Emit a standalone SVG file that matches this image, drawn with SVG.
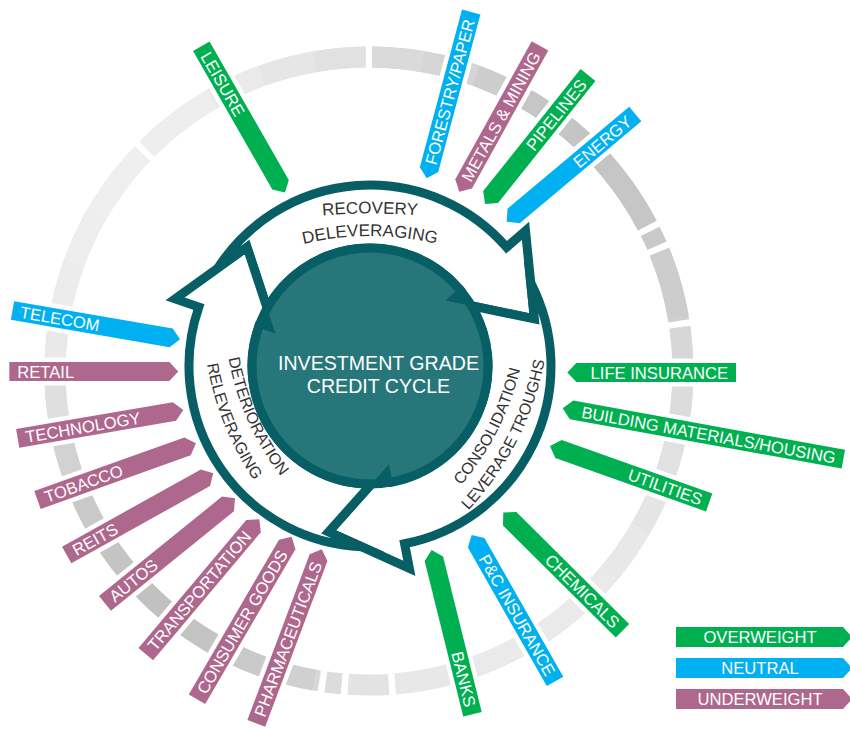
<svg xmlns="http://www.w3.org/2000/svg" width="850" height="729" viewBox="0 0 850 729">
<style>
  .ring path{fill:none;stroke-width:21}
  .sec path{stroke:#fff;stroke-width:9;stroke-linejoin:round;paint-order:stroke}
  .ow{fill:#00b050}
  .nt{fill:#00b0f0}
  .uw{fill:#ae678d}
  .sec text,.legend text{font-family:"Liberation Sans",Arial,sans-serif;font-size:16.6px;fill:#fff}
  .sec text.e{text-anchor:end}
  .legend text{text-anchor:middle}
  .cyc{fill:#fff;stroke:#075f65;stroke-width:9;stroke-linejoin:miter;stroke-miterlimit:10}
  .barb{fill:#075f65}
  .phase{font-family:"Liberation Sans",Arial,sans-serif;fill:#333}
  .core{font-family:"Liberation Sans",Arial,sans-serif;font-size:19.6px;fill:#fff;text-anchor:middle}
</style>
<defs>
  <!-- one curved cycle arrow; the other two are rotations of it about (370,366) -->
  <path id="cycArrow" d="M217.6,268.4 A181,181 0 0 1 506.6,247.2 L525.5,230.8 L534.4,318.9 L445.5,300.4 L459.1,288.6 A118,118 0 0 0 267.1,308.2 L247,247.2 Z"/>
  <path id="barbShape" d="M445.5,300.4 L462.5,285.6 L476.7,306.9 Z"/>
  <!-- baselines for the phase labels -->
  <path id="pRec1" d="M214.7,234 A600,600 0 0 1 525.3,234"/>
  <path id="pRec2" d="M230,273.5 A280,280 0 0 1 510,273.5"/>
  <path id="pCon1" d="M400.4,538.6 A280,280 0 0 0 527.5,289.1"/>
  <path id="pCon2" d="M404.2,561.9 A300,300 0 0 0 548.6,278.5"/>
  <path id="pDet1" d="M225.7,282.5 A270,270 0 0 0 335.5,529.1"/>
  <path id="pDet2" d="M205.5,270.6 A300,300 0 0 0 317.9,548.8"/>
</defs>

<!-- outer segmented grey ring -->
<g id="ring" class="ring">
  <path stroke="#d8d8d8" d="M319.3,681 A314,314 0 0 1 142.4,153.7"/>
  <path stroke="#e8e8e8" d="M147,149 A314,314 0 0 1 365.7,57"/>
  <path stroke="#cccccc" d="M372.3,57 A314,314 0 0 1 647.3,225.5"/>
  <path stroke="#c9c9c9" d="M650.2,231.4 A314,314 0 0 1 657,245.8"/>
  <path stroke="#cfcfcf" d="M659.5,251.8 A314,314 0 0 1 678.9,320.8"/>
  <path stroke="#e4e4e4" d="M679.9,327.3 A314,314 0 0 1 395.3,683.9"/>
  <path stroke="#e3e3e3" d="M388.7,684.4 A314,314 0 0 1 348.2,684.3"/>
  <path stroke="#dcdcdc" d="M341.6,683.8 A314,314 0 0 1 325.9,682"/>

  <path stroke="#d0d0d0" d="M314.5,680.2 A314,314 0 0 1 261.6,666.1"/>
  <path stroke="#c9c9c9" d="M261.6,666.1 A314,314 0 0 1 212,642.9"/>
  <path stroke="#c3c3c3" d="M212,642.9 A314,314 0 0 1 167.2,611.5"/>
  <path stroke="#c1c1c1" d="M167.2,611.5 A314,314 0 0 1 128.5,572.8"/>
  <path stroke="#c4c4c4" d="M128.5,572.8 A314,314 0 0 1 97.1,528"/>
  <path stroke="#c9c9c9" d="M97.1,528 A314,314 0 0 1 73.9,478.4"/>
  <path stroke="#d2d2d2" d="M73.9,478.4 A314,314 0 0 1 59.8,425.5"/>
  <path stroke="#dfdfdf" d="M59.8,425.5 A314,314 0 0 1 55,371"/>
  <path stroke="#e9e9e9" d="M55,371 A314,314 0 0 1 59.8,316.5"/>
  <path stroke="#ececec" d="M59.8,316.5 A314,314 0 0 1 73.9,263.6"/>
  <path stroke="#eeeeee" d="M73.9,263.6 A314,314 0 0 1 97.1,214"/>
  <path stroke="#efefef" d="M97.1,214 A314,314 0 0 1 142.4,153.7"/>

  <path stroke="#eeeeee" d="M147,149 A314,314 0 0 1 212,99.1"/>
  <path stroke="#eaeaea" d="M212,99.1 A314,314 0 0 1 261.6,75.9"/>
  <path stroke="#e6e6e6" d="M261.6,75.9 A314,314 0 0 1 314.5,61.8"/>
  <path stroke="#e1e1e1" d="M314.5,61.8 A314,314 0 0 1 365.7,57"/>

  <path stroke="#dadada" d="M372.3,57 A314,314 0 0 1 423.5,61.8"/>
  <path stroke="#d5d5d5" d="M423.5,61.8 A314,314 0 0 1 476.4,75.9"/>
  <path stroke="#cdcdcd" d="M476.4,75.9 A314,314 0 0 1 526,99.1"/>
  <path stroke="#c6c6c6" d="M526,99.1 A314,314 0 0 1 570.8,130.5"/>
  <path stroke="#c4c4c4" d="M570.8,130.5 A314,314 0 0 1 609.5,169.2"/>
  <path stroke="#c6c6c6" d="M609.5,169.2 A314,314 0 0 1 647.3,225.5"/>

  <path stroke="#cdcdcd" d="M659.5,251.8 A314,314 0 0 1 678.2,316.5"/>

  <path stroke="#d7d7d7" d="M679.9,327.3 A314,314 0 0 1 683,371"/>
  <path stroke="#dcdcdc" d="M683,371 A314,314 0 0 1 678.2,425.5"/>
  <path stroke="#e1e1e1" d="M678.2,425.5 A314,314 0 0 1 664.1,478.4"/>
  <path stroke="#e5e5e5" d="M664.1,478.4 A314,314 0 0 1 640.9,528"/>
  <path stroke="#e8e8e8" d="M640.9,528 A314,314 0 0 1 609.5,572.8"/>
  <path stroke="#eaeaea" d="M609.5,572.8 A314,314 0 0 1 476.4,666.1"/>
  <path stroke="#e8e8e8" d="M476.4,666.1 A314,314 0 0 1 395.3,683.9"/>
</g>

<!-- sector arrows -->
<g class="sec">
  <g id="leisure" transform="translate(201.3 46.3) rotate(60.2)"><path class="ow" d="M0,-9.5H159.5L168.5,0L159.5,9.5H0Z"/><text x="8" y="6">LEISURE</text></g>
  <g id="forestry-paper" transform="translate(426.7 178.3) rotate(-75.02)"><path class="nt" d="M0,0L9,-9.5H172.2V9.5H9Z"/><text class="e" x="164.2" y="6">FORESTRY/PAPER</text></g>
  <g id="metals-mining" transform="translate(459.3 191.7) rotate(-61.05)"><path class="uw" d="M0,0L9,-9.5H166.7V9.5H9Z"/><text class="e" x="158.7" y="6">METALS &amp; MINING</text></g>
  <g id="pipelines" transform="translate(485 204) rotate(-51.4)"><path class="ow" d="M0,0L9,-9.5H165.1V9.5H9Z"/><text class="e" x="157.1" y="6">PIPELINES</text></g>
  <g id="energy" transform="translate(506.7 221.7) rotate(-39.95)"><path class="nt" d="M0,0L9,-9.5H167.7V9.5H9Z"/><text class="e" x="159.7" y="6">ENERGY</text></g>
  <g id="telecom" transform="translate(12.5 310.5) rotate(9.76)"><path class="nt" d="M0,-9.5H161L170,0L161,9.5H0Z"/><text x="8" y="6">TELECOM</text></g>
  <g id="retail" transform="translate(9.3 371.5)"><path class="uw" d="M0,-9.5H160L169,0L160,9.5H0Z"/><text x="8" y="6">RETAIL</text></g>
  <g id="technology" transform="translate(17.7 438.3) rotate(-9.7)"><path class="uw" d="M0,-9.5H159L168,0L159,9.5H0Z"/><text x="8" y="6">TECHNOLOGY</text></g>
  <g id="tobacco" transform="translate(37.5 500) rotate(-19.68)"><path class="uw" d="M0,-9.5H159.3L168.3,0L159.3,9.5H0Z"/><text x="8" y="6">TOBACCO</text></g>
  <g id="reits" transform="translate(66.7 555) rotate(-29.13)"><path class="uw" d="M0,-9.5H158.8L167.8,0L158.8,9.5H0Z"/><text x="8" y="6">REITS</text></g>
  <g id="autos" transform="translate(105 603.3) rotate(-38.93)"><path class="uw" d="M0,-9.5H158.1L167.1,0L158.1,9.5H0Z"/><text x="8" y="6">AUTOS</text></g>
  <g id="transportation" transform="translate(145.8 654.2) rotate(-49.92)"><path class="uw" d="M0,-9.5H167.3L176.3,0L167.3,9.5H0Z"/><text x="8" y="6">TRANSPORTATION</text></g>
  <g id="consumer-goods" transform="translate(197 699.2) rotate(-59.77)"><path class="uw" d="M0,-9.5H179.1L188.1,0L179.1,9.5H0Z"/><text x="8" y="6">CONSUMER GOODS</text></g>
  <g id="pharmaceuticals" transform="translate(256.3 723.3) rotate(-69.4)"><path class="uw" d="M0,-9.5H176.9L185.9,0L176.9,9.5H0Z"/><text x="8" y="6">PHARMACEUTICALS</text></g>
  <g id="life-insurance" transform="translate(567.3 372.5)"><path class="ow" d="M0,0L9,-9.5H168.7V9.5H9Z"/><text class="e" x="160.7" y="6">LIFE INSURANCE</text></g>
  <g id="building-materials" transform="translate(562.7 408.3) rotate(10.28)"><path class="ow" d="M0,0L9,-9.5H285.2V9.5H9Z"/><text class="e" x="277.2" y="6">BUILDING MATERIALS/HOUSING</text></g>
  <g id="utilities" transform="translate(550 446) rotate(19.54)"><path class="ow" d="M0,0L9,-9.5H168.9V9.5H9Z"/><text class="e" x="160.9" y="6">UTILITIES</text></g>
  <g id="chemicals" transform="translate(503.3 512.5) rotate(44.78)"><path class="ow" d="M0,0L9,-9.5H167.9V9.5H9Z"/><text class="e" x="159.9" y="6">CHEMICALS</text></g>
  <g id="pc-insurance" transform="translate(471.7 535) rotate(60.34)"><path class="nt" d="M0,0L9,-9.5H168.4V9.5H9Z"/><text class="e" x="160.4" y="6">P&amp;C INSURANCE</text></g>
  <g id="banks" transform="translate(431.7 550) rotate(76.05)"><path class="ow" d="M0,0L9,-9.5H169.2V9.5H9Z"/><text class="e" x="161.2" y="6">BANKS</text></g>
</g>

<!-- credit cycle: three curved arrows round a disc -->
<g id="connectors">
  <use id="arrow-recovery" href="#cycArrow" class="cyc"/>
  <use id="arrow-consolidation" href="#cycArrow" class="cyc" transform="rotate(120 370 366)"/>
  <use id="arrow-deterioration" href="#cycArrow" class="cyc" transform="rotate(240 370 366)"/>
</g>
<g id="core">
  <circle cx="370" cy="366" r="118" fill="#26767a" stroke="#075f65" stroke-width="9"/>
  <use href="#barbShape" class="barb"/>
  <use href="#barbShape" class="barb" transform="rotate(120 370 366)"/>
  <use href="#barbShape" class="barb" transform="rotate(240 370 366)"/>
  <text class="core" x="378.5" y="370">INVESTMENT GRADE</text>
  <text class="core" x="378.5" y="393">CREDIT CYCLE</text>
</g>
<g id="phase-recovery" class="phase" font-size="17">
  <text><textPath href="#pRec1" startOffset="50%" text-anchor="middle">RECOVERY</textPath></text>
  <text><textPath href="#pRec2" startOffset="50%" text-anchor="middle">DELEVERAGING</textPath></text>
</g>
<g id="phase-consolidation" class="phase" font-size="16">
  <text><textPath href="#pCon1" startOffset="50%" text-anchor="middle">CONSOLIDATION</textPath></text>
  <text><textPath href="#pCon2" startOffset="50%" text-anchor="middle">LEVERAGE TROUGHS</textPath></text>
</g>
<g id="phase-deterioration" class="phase" font-size="16">
  <text><textPath href="#pDet1" startOffset="50%" text-anchor="middle">DETERIORATION</textPath></text>
  <text><textPath href="#pDet2" startOffset="50%" text-anchor="middle">RELEVERAGING</textPath></text>
</g>

<!-- legend -->
<g class="legend">
  <g id="legend-overweight"><path class="ow" d="M676,627H843L852,637L843,647H676Z"/><text x="760" y="643">OVERWEIGHT</text></g>
  <g id="legend-neutral"><path class="nt" d="M676,658H843L852,668L843,678H676Z"/><text x="760" y="674">NEUTRAL</text></g>
  <g id="legend-underweight"><path class="uw" d="M676,689H843L852,699L843,709H676Z"/><text x="760" y="705">UNDERWEIGHT</text></g>
</g>
</svg>
